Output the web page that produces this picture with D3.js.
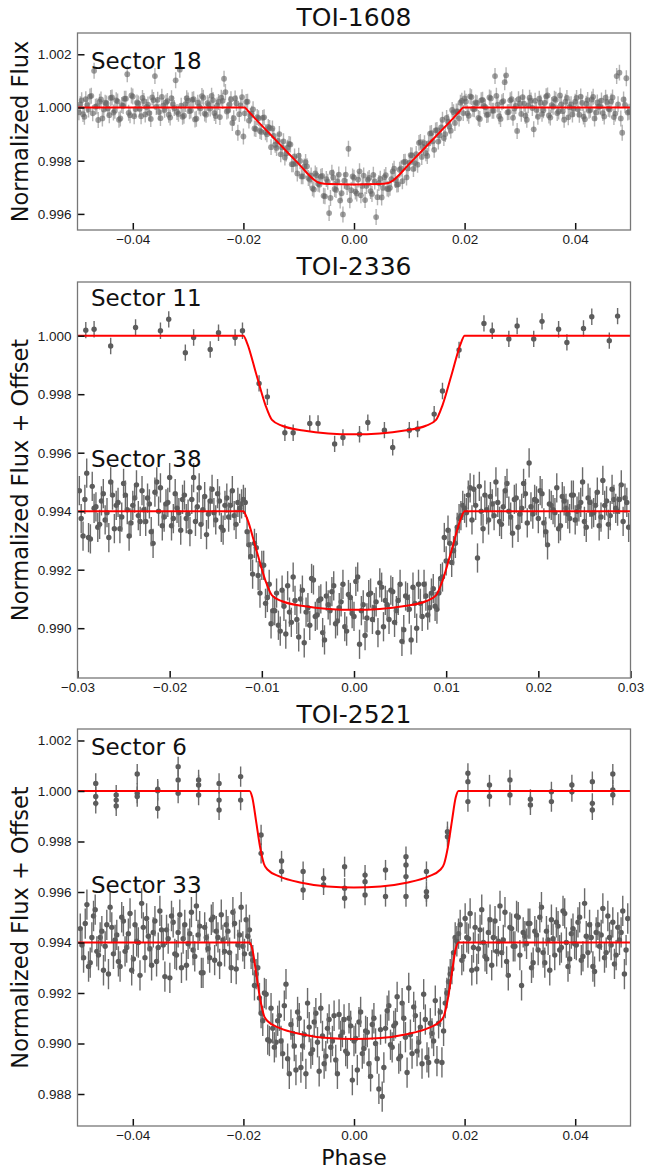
<!DOCTYPE html>
<html>
<head>
<meta charset="utf-8">
<script src="https://cdn.jsdelivr.net/npm/d3@7"></script>
<style>
  body { margin: 0; background: #fff; }
  svg { display: block; font-family: "DejaVu Sans", sans-serif; }
</style>
</head>
<body>
<svg id="fig" width="645" height="1169"></svg>
<script>

// ---------- tick labels ----------
var xTicksWide = [-0.04, -0.02, 0.00, 0.02, 0.04];
var xTicksNarrow = [-0.03, -0.02, -0.01, 0.00, 0.01, 0.02, 0.03];
var yTicks1608 = [1.002, 1.000, 0.998, 0.996];
var yTicks2336 = [1.000, 0.998, 0.996, 0.994, 0.992, 0.990];
var yTicks2521 = [1.002, 1.000, 0.998, 0.996, 0.994, 0.992, 0.990, 0.988];

// ---------- TOI-1608, Sector 18 (two interleaved phase bins) ----------
var s18Phase = [
  -0.0495,-0.0490,-0.0485,-0.0480,-0.0475,-0.0470,-0.0465,-0.0460,-0.0455,-0.0450,
  -0.0445,-0.0440,-0.0435,-0.0430,-0.0425,-0.0420,-0.0415,-0.0410,-0.0405,-0.0400,
  -0.0395,-0.0390,-0.0385,-0.0380,-0.0375,-0.0370,-0.0365,-0.0360,-0.0355,-0.0350,
  -0.0345,-0.0340,-0.0335,-0.0330,-0.0325,-0.0320,-0.0315,-0.0310,-0.0305,-0.0300,
  -0.0295,-0.0290,-0.0285,-0.0280,-0.0275,-0.0270,-0.0265,-0.0260,-0.0255,-0.0250,
  -0.0245,-0.0240,-0.0235,-0.0230,-0.0225,-0.0220,-0.0215,-0.0210,-0.0205,-0.0200,
  -0.0195,-0.0190,-0.0185,-0.0180,-0.0175,-0.0170,-0.0165,-0.0160,-0.0155,-0.0150,
  -0.0145,-0.0140,-0.0135,-0.0130,-0.0125,-0.0120,-0.0115,-0.0110,-0.0105,-0.0100,
  -0.0095,-0.0090,-0.0085,-0.0080,-0.0075,-0.0070,-0.0065,-0.0060,-0.0055,-0.0050,
  -0.0045,-0.0040,-0.0035,-0.0030,-0.0025,-0.0020,-0.0015,-0.0010,-0.0005,0.0000,
  0.0005,0.0010,0.0015,0.0020,0.0025,0.0030,0.0035,0.0040,0.0045,0.0050,
  0.0055,0.0060,0.0065,0.0070,0.0075,0.0080,0.0085,0.0090,0.0095,0.0100,
  0.0105,0.0110,0.0115,0.0120,0.0125,0.0130,0.0135,0.0140,0.0145,0.0150,
  0.0155,0.0160,0.0165,0.0170,0.0175,0.0180,0.0185,0.0190,0.0195,0.0200,
  0.0205,0.0210,0.0215,0.0220,0.0225,0.0230,0.0235,0.0240,0.0245,0.0250,
  0.0255,0.0260,0.0265,0.0270,0.0275,0.0280,0.0285,0.0290,0.0295,0.0300,
  0.0305,0.0310,0.0315,0.0320,0.0325,0.0330,0.0335,0.0340,0.0345,0.0350,
  0.0355,0.0360,0.0365,0.0370,0.0375,0.0380,0.0385,0.0390,0.0395,0.0400,
  0.0405,0.0410,0.0415,0.0420,0.0425,0.0430,0.0435,0.0440,0.0445,0.0450,
  0.0455,0.0460,0.0465,0.0470,0.0475,0.0480,0.0485,0.0490,0.0495
];
var s18Flux = [
  1.00012,0.99975,1.00031,0.99992,1.00044,1.00138,1.00005,1.00022,0.99959,1.00018,
  0.99997,1.00036,0.99981,1.00027,0.99954,1.00009,1.00033,1.00125,0.99971,1.00041,
  0.99994,1.00015,0.99967,1.00024,1.00002,0.99979,1.00038,1.00118,1.00029,0.99960,
  1.00007,1.00019,0.99973,1.00035,0.99998,0.99983,1.00142,0.99965,1.00013,1.00026,
  0.99989,1.00031,0.99958,1.00004,1.00043,0.99977,1.00016,0.99996,1.00028,0.99968,
  1.00021,1.00037,1.00108,0.99985,1.00012,0.99942,1.00034,0.99905,1.00008,0.99891,
  1.00021,0.99951,0.99977,0.99921,0.99964,0.99912,0.99961,0.99907,0.99927,0.99851,
  0.99893,0.99848,0.99900,0.99850,0.99812,0.99849,0.99861,0.99787,0.99789,0.99819,
  0.99741,0.99778,0.99779,0.99729,0.99696,0.99752,0.99713,0.99740,0.99668,0.99731,
  0.99603,0.99755,0.99694,0.99722,0.99650,0.99598,0.99748,0.99845,0.99689,0.99736,
  0.99677,0.99760,0.99705,0.99652,0.99729,0.99686,0.99747,0.99588,0.99716,0.99662,
  0.99738,0.99695,0.99698,0.99760,0.99727,0.99711,0.99771,0.99795,0.99737,0.99792,
  0.99820,0.99791,0.99785,0.99870,0.99852,0.99828,0.99865,0.99904,0.99841,0.99915,
  0.99895,0.99954,0.99900,0.99946,0.99913,0.99982,0.99985,0.99959,1.00025,1.00034,
  0.99978,1.00042,0.99995,1.00019,0.99961,1.00027,1.00006,0.99972,1.00038,0.99988,
  1.00118,1.00011,0.99957,1.00024,1.00121,0.99983,1.00031,0.99996,0.99912,1.00015,
  1.00039,0.99969,1.00008,1.00026,0.99918,0.99991,1.00033,0.99976,1.00017,1.00045,
  0.99962,1.00003,1.00029,0.99985,1.00012,0.99954,1.00036,1.00001,0.99974,1.00022,
  0.99993,1.00041,0.99966,1.00014,0.99988,1.00030,0.99959,1.00019,1.00005,0.99979,
  1.00037,0.99995,1.00023,0.99964,1.00118,1.00131,0.99905,1.00010,0.99981
];
var s18bPhase = [
  -0.04975,-0.04925,-0.04875,-0.04825,-0.04775,-0.04725,-0.04675,-0.04625,-0.04575,-0.04525,
  -0.04475,-0.04425,-0.04375,-0.04325,-0.04275,-0.04225,-0.04175,-0.04125,-0.04075,-0.04025,
  -0.03975,-0.03925,-0.03875,-0.03825,-0.03775,-0.03725,-0.03675,-0.03625,-0.03575,-0.03525,
  -0.03475,-0.03425,-0.03375,-0.03325,-0.03275,-0.03225,-0.03175,-0.03125,-0.03075,-0.03025,
  -0.02975,-0.02925,-0.02875,-0.02825,-0.02775,-0.02725,-0.02675,-0.02625,-0.02575,-0.02525,
  -0.02475,-0.02425,-0.02375,-0.02325,-0.02275,-0.02225,-0.02175,-0.02125,-0.02075,-0.02025,
  -0.01975,-0.01925,-0.01875,-0.01825,-0.01775,-0.01725,-0.01675,-0.01625,-0.01575,-0.01525,
  -0.01475,-0.01425,-0.01375,-0.01325,-0.01275,-0.01225,-0.01175,-0.01125,-0.01075,-0.01025,
  -0.00975,-0.00925,-0.00875,-0.00825,-0.00775,-0.00725,-0.00675,-0.00625,-0.00575,-0.00525,
  -0.00475,-0.00425,-0.00375,-0.00325,-0.00275,-0.00225,-0.00175,-0.00125,-0.00075,-0.00025,
  0.00025,0.00075,0.00125,0.00175,0.00225,0.00275,0.00325,0.00375,0.00425,0.00475,
  0.00525,0.00575,0.00625,0.00675,0.00725,0.00775,0.00825,0.00875,0.00925,0.00975,
  0.01025,0.01075,0.01125,0.01175,0.01225,0.01275,0.01325,0.01375,0.01425,0.01475,
  0.01525,0.01575,0.01625,0.01675,0.01725,0.01775,0.01825,0.01875,0.01925,0.01975,
  0.02025,0.02075,0.02125,0.02175,0.02225,0.02275,0.02325,0.02375,0.02425,0.02475,
  0.02525,0.02575,0.02625,0.02675,0.02725,0.02775,0.02825,0.02875,0.02925,0.02975,
  0.03025,0.03075,0.03125,0.03175,0.03225,0.03275,0.03325,0.03375,0.03425,0.03475,
  0.03525,0.03575,0.03625,0.03675,0.03725,0.03775,0.03825,0.03875,0.03925,0.03975,
  0.04025,0.04075,0.04125,0.04175,0.04225,0.04275,0.04325,0.04375,0.04425,0.04475,
  0.04525,0.04575,0.04625,0.04675,0.04725,0.04775,0.04825,0.04875,0.04925,0.04975
];
var s18bFlux = [
  0.99982,1.00027,0.99965,1.00009,1.00041,0.99978,1.00003,0.99953,1.00030,0.99992,
  1.00015,0.99971,1.00038,0.99988,1.00023,0.99959,1.00006,1.00033,0.99980,1.00045,
  0.99967,1.00019,0.99995,1.00036,0.99974,1.00011,0.99957,1.00028,1.00002,0.99983,
  1.00040,0.99991,1.00024,0.99962,1.00013,1.00102,0.99976,1.00007,0.99969,1.00035,
  0.99986,1.00029,0.99955,1.00018,0.99997,1.00037,0.99973,1.00010,1.00044,0.99979,
  1.00008,0.99964,1.00025,1.00058,0.99989,1.00031,0.99960,1.00016,0.99975,1.00039,
  0.99978,1.00022,0.99969,0.99993,0.99919,0.99960,0.99908,0.99963,0.99899,0.99923,
  0.99921,0.99860,0.99874,0.99824,0.99873,0.99827,0.99863,0.99787,0.99816,0.99752,
  0.99799,0.99741,0.99795,0.99735,0.99744,0.99692,0.99745,0.99710,0.99743,0.99666,
  0.99721,0.99660,0.99737,0.99690,0.99748,0.99678,0.99725,0.99701,0.99651,0.99741,
  0.99684,0.99729,0.99670,0.99744,0.99705,0.99735,0.99675,0.99722,0.99663,0.99732,
  0.99698,0.99746,0.99693,0.99731,0.99770,0.99710,0.99766,0.99723,0.99796,0.99771,
  0.99821,0.99769,0.99825,0.99867,0.99814,0.99866,0.99818,0.99902,0.99873,0.99914,
  0.99872,0.99925,0.99885,0.99961,0.99929,0.99991,0.99942,0.99985,1.00018,0.99979,
  1.00022,0.99969,1.00039,0.99993,1.00016,0.99957,1.00029,1.00001,0.99974,1.00034,
  0.99988,1.00044,0.99967,1.00020,1.00095,0.99982,1.00027,0.99961,1.00006,1.00031,
  0.99976,1.00014,0.99954,1.00037,0.99998,1.00025,0.99965,1.00018,0.99990,1.00042,
  0.99970,1.00009,1.00033,0.99979,1.00045,0.99986,1.00022,0.99963,1.00012,0.99995,
  1.00036,0.99973,1.00017,0.99956,1.00028,0.99991,1.00040,0.99981,1.00003,1.00026,
  0.99966,1.00021,0.99992,1.00038,0.99977,1.00012,0.99959,1.00030,1.00110,0.99984
];
var s18Err = 0.0003;
var s18ModelPhase = [-0.05,-0.0198,-0.0192,-0.018,-0.015,-0.012,-0.0095,-0.0082,-0.0072,-0.0062,-0.0045,0,
                     0.0045,0.0062,0.0072,0.0082,0.0095,0.012,0.015,0.018,0.0192,0.0198,0.05];
var s18ModelFlux = [1,1,0.99988,0.99961,0.99896,0.99831,0.99777,0.99747,0.99728,0.99716,0.99712,0.99711,
                    0.99712,0.99716,0.99728,0.99747,0.99777,0.99831,0.99896,0.99961,0.99988,1,1];

// ---------- TOI-2336, Sector 11 ----------
var s11Phase = [-0.0291,-0.0282,-0.0264,-0.0237,-0.0210,-0.0201,-0.0183,-0.0174,-0.0156,-0.0147,
  -0.0129,-0.0121,-0.0103,-0.0094,-0.0075,-0.0066,-0.0048,-0.0039,-0.0021,-0.0012,
  0.0006,0.0015,0.0033,0.0042,0.0060,0.0069,0.0087,0.0096,0.0114,0.0141,
  0.0150,0.0168,0.0177,0.0195,0.0204,0.0222,0.0231,0.0249,0.0258,0.0277,0.0286];
var s11Flux = [1.00019,1.00022,0.99965,1.00028,1.00017,1.00056,0.99942,0.99994,0.99953,1.00010,
  0.99994,1.00017,0.99837,0.99791,0.99668,0.99668,0.99700,0.99700,0.99630,0.99652,
  0.99663,0.99703,0.99677,0.99618,0.99677,0.99681,0.99732,0.99811,0.99951,1.00042,
  1.00017,0.99989,1.00033,0.99989,1.00049,1.00022,0.99977,1.00025,1.00065,0.99983,1.00067];
var s11Err = 0.00028;
var s11ModelPhase = [-0.03,-0.0120,-0.0116,-0.0106,-0.0096,-0.0089,-0.0078,-0.0055,-0.0028,0,
                     0.0028,0.0055,0.0078,0.0089,0.0096,0.0106,0.0116,0.0120,0.03];
var s11ModelFlux = [1,1,0.99975,0.99868,0.99762,0.99712,0.99692,0.99676,0.99666,0.99663,
                    0.99666,0.99676,0.99692,0.99712,0.99762,0.99868,0.99975,1,1];

// ---------- TOI-2336, Sector 38 (two interleaved phase bins) ----------
var s38Phase = [
  -0.0298,-0.0294,-0.0290,-0.0286,-0.0282,-0.0278,-0.0274,-0.0270,-0.0266,-0.0262,
  -0.0258,-0.0254,-0.0250,-0.0246,-0.0242,-0.0238,-0.0234,-0.0230,-0.0226,-0.0222,
  -0.0218,-0.0214,-0.0210,-0.0206,-0.0202,-0.0198,-0.0194,-0.0190,-0.0186,-0.0182,
  -0.0178,-0.0174,-0.0170,-0.0166,-0.0162,-0.0158,-0.0154,-0.0150,-0.0146,-0.0142,
  -0.0138,-0.0134,-0.0130,-0.0126,-0.0122,-0.0118,-0.0114,-0.0110,-0.0106,-0.0102,
  -0.0098,-0.0094,-0.0090,-0.0086,-0.0082,-0.0078,-0.0074,-0.0070,-0.0066,-0.0062,
  -0.0058,-0.0054,-0.0050,-0.0046,-0.0042,-0.0038,-0.0034,-0.0030,-0.0026,-0.0022,
  -0.0018,-0.0014,-0.0010,-0.0006,-0.0002,0.0002,0.0006,0.0010,0.0014,0.0018,
  0.0022,0.0026,0.0030,0.0034,0.0038,0.0042,0.0046,0.0050,0.0054,0.0058,
  0.0062,0.0066,0.0070,0.0074,0.0078,0.0082,0.0086,0.0090,0.0094,0.0098,
  0.0102,0.0106,0.0110,0.0114,0.0118,0.0122,0.0126,0.0130,0.0134,0.0138,
  0.0142,0.0146,0.0150,0.0154,0.0158,0.0162,0.0166,0.0170,0.0174,0.0178,
  0.0182,0.0186,0.0190,0.0194,0.0198,0.0202,0.0206,0.0210,0.0214,0.0218,
  0.0222,0.0226,0.0230,0.0234,0.0238,0.0242,0.0246,0.0250,0.0254,0.0258,
  0.0262,0.0266,0.0270,0.0274,0.0278,0.0282,0.0286,0.0290,0.0294,0.0298
];
var s38Flux = [
  0.99470,0.99315,0.99530,0.99305,0.99410,0.99345,0.99435,0.99370,0.99310,0.99455,
  0.99420,0.99340,0.99495,0.99405,0.99360,0.99445,0.99385,0.99470,0.99365,0.99425,
  0.99290,0.99500,0.99480,0.99380,0.99430,0.99350,0.99460,0.99395,0.99440,0.99375,
  0.99330,0.99515,0.99415,0.99355,0.99450,0.99390,0.99475,0.99370,0.99435,0.99335,
  0.99445,0.99420,0.99385,0.99430,0.99425,0.99430,0.99285,0.99185,0.99275,0.99120,
  0.99215,0.99105,0.99015,0.99060,0.99010,0.99130,0.98980,0.99055,0.99175,0.99030,
  0.99100,0.98950,0.99070,0.99170,0.99040,0.99095,0.98985,0.99110,0.99060,0.99145,
  0.99025,0.99090,0.99005,0.99115,0.99050,0.99160,0.98945,0.99080,0.99035,0.99120,
  0.99070,0.98985,0.99140,0.99095,0.99030,0.99125,0.99060,0.99150,0.98995,0.99105,
  0.98960,0.99085,0.99150,0.99040,0.99110,0.99070,0.99135,0.99065,0.99170,0.99310,
  0.99335,0.99225,0.99290,0.99375,0.99420,0.99395,0.99480,0.99475,0.99240,0.99400,
  0.99455,0.99370,0.99425,0.99500,0.99365,0.99415,0.99495,0.99380,0.99440,0.99345,
  0.99410,0.99460,0.99565,0.99390,0.99435,0.99470,0.99360,0.99285,0.99420,0.99395,
  0.99340,0.99450,0.99410,0.99375,0.99455,0.99400,0.99430,0.99365,0.99445,0.99390,
  0.99420,0.99350,0.99505,0.99435,0.99385,0.99440,0.99400,0.99490,0.99445,0.99345
];
var s38bPhase = [
  -0.0296,-0.0292,-0.0288,-0.0284,-0.0280,-0.0276,-0.0272,-0.0268,-0.0264,-0.0260,
  -0.0256,-0.0252,-0.0248,-0.0244,-0.0240,-0.0236,-0.0232,-0.0228,-0.0224,-0.0220,
  -0.0216,-0.0212,-0.0208,-0.0204,-0.0200,-0.0196,-0.0192,-0.0188,-0.0184,-0.0180,
  -0.0176,-0.0172,-0.0168,-0.0164,-0.0160,-0.0156,-0.0152,-0.0148,-0.0144,-0.0140,
  -0.0136,-0.0132,-0.0128,-0.0124,-0.0120,-0.0116,-0.0112,-0.0108,-0.0104,-0.0100,
  -0.0096,-0.0092,-0.0088,-0.0084,-0.0080,-0.0076,-0.0072,-0.0068,-0.0064,-0.0060,
  -0.0056,-0.0052,-0.0048,-0.0044,-0.0040,-0.0036,-0.0032,-0.0028,-0.0024,-0.0020,
  -0.0016,-0.0012,-0.0008,-0.0004,0.0000,0.0004,0.0008,0.0012,0.0016,0.0020,
  0.0024,0.0028,0.0032,0.0036,0.0040,0.0044,0.0048,0.0052,0.0056,0.0060,
  0.0064,0.0068,0.0072,0.0076,0.0080,0.0084,0.0088,0.0092,0.0096,0.0100,
  0.0104,0.0108,0.0112,0.0116,0.0120,0.0124,0.0128,0.0132,0.0136,0.0140,
  0.0144,0.0148,0.0152,0.0156,0.0160,0.0164,0.0168,0.0172,0.0176,0.0180,
  0.0184,0.0188,0.0192,0.0196,0.0200,0.0204,0.0208,0.0212,0.0216,0.0220,
  0.0224,0.0228,0.0232,0.0236,0.0240,0.0244,0.0248,0.0252,0.0256,0.0260,
  0.0264,0.0268,0.0272,0.0276,0.0280,0.0284,0.0288,0.0292,0.0296
];
var s38bFlux = [
  0.99375,0.99440,0.99310,0.99485,0.99415,0.99355,0.99460,0.99395,0.99500,0.99340,
  0.99430,0.99380,0.99455,0.99315,0.99420,0.99490,0.99365,0.99405,0.99445,0.99330,
  0.99465,0.99400,0.99350,0.99425,0.99515,0.99375,0.99410,0.99335,0.99455,0.99390,
  0.99440,0.99365,0.99480,0.99405,0.99320,0.99435,0.99395,0.99460,0.99345,0.99420,
  0.99380,0.99470,0.99355,0.99410,0.99440,0.99330,0.99245,0.99290,0.99180,0.99215,
  0.99085,0.99150,0.99060,0.99120,0.98990,0.99075,0.99145,0.99020,0.99095,0.98970,
  0.99130,0.99055,0.99010,0.99165,0.99045,0.99100,0.98960,0.99080,0.99125,0.99015,
  0.99070,0.99150,0.98990,0.99105,0.99040,0.99175,0.99060,0.98975,0.99115,0.99030,
  0.99090,0.99155,0.99005,0.99080,0.99130,0.99020,0.99095,0.98955,0.99110,0.99065,
  0.99140,0.99000,0.99085,0.99150,0.99045,0.99120,0.99075,0.99120,0.99175,0.99230,
  0.99290,0.99265,0.99345,0.99385,0.99410,0.99455,0.99370,0.99420,0.99485,0.99340,
  0.99405,0.99450,0.99385,0.99430,0.99355,0.99470,0.99400,0.99325,0.99445,0.99390,
  0.99495,0.99360,0.99415,0.99440,0.99375,0.99460,0.99330,0.99425,0.99405,0.99480,
  0.99350,0.99435,0.99390,0.99455,0.99370,0.99415,0.99500,0.99345,0.99430,0.99395,
  0.99465,0.99380,0.99420,0.99355,0.99475,0.99410,0.99440,0.99365,0.99430
];
var s38Err = 0.0005;
var s38ModelPhase = s11ModelPhase;
var s38ModelFlux = [0.994,0.994,0.99375,0.99268,0.99162,0.99112,0.99092,0.99076,0.99066,0.99063,
                    0.99066,0.99076,0.99092,0.99112,0.99162,0.99268,0.99375,0.994,0.994];

// ---------- TOI-2521, Sector 6 ----------
var s6Phase = [
  -0.0467,-0.0467,-0.0467,-0.0430,-0.0430,-0.0430,-0.0392,-0.0392,-0.0392,
  -0.0355,-0.0355,-0.0355,-0.0318,-0.0318,-0.0318,-0.0281,-0.0281,-0.0281,
  -0.0244,-0.0244,-0.0244,-0.0205,-0.0205,-0.0168,-0.0168,-0.0131,-0.0131,
  -0.0092,-0.0092,-0.0055,-0.0055,-0.0017,-0.0017,-0.0017,0.0020,0.0020,0.0020,
  0.0057,0.0057,0.0094,0.0094,0.0094,0.0094,0.0131,0.0131,0.0131,0.0169,0.0169,
  0.0206,0.0206,0.0206,0.0245,0.0245,0.0282,0.0282,0.0319,0.0319,0.0357,0.0357,
  0.0394,0.0394,0.0431,0.0431,0.0431,0.0468,0.0468,0.0468
];
var s6Flux = [
  1.00030,0.99951,0.99978,0.99984,0.99964,0.99941,1.00067,0.99991,0.99978,
  1.00007,0.99931,1.00001,1.00096,1.00044,0.99991,1.00044,1.00024,0.99984,
  1.00030,0.99964,0.99925,1.00057,0.99964,0.99826,0.99753,0.99723,0.99681,
  0.99681,0.99608,0.99654,0.99628,0.99700,0.99615,0.99575,0.99667,0.99641,0.99588,
  0.99687,0.99582,0.99740,0.99707,0.99661,0.99582,0.99681,0.99601,0.99582,0.99839,0.99819,
  1.00070,1.00037,0.99958,1.00024,0.99978,1.00044,0.99984,0.99967,0.99945,0.99997,0.99958,
  1.00024,0.99997,1.00037,0.99951,0.99925,1.00067,1.00004,0.99984
];
var s6Err = 0.0004;
var s6ModelPhase = [-0.05,-0.0189,-0.0184,-0.0177,-0.0170,-0.0163,-0.0156,-0.0135,-0.0095,-0.0048,0,
                    0.0048,0.0095,0.0135,0.0156,0.0163,0.0170,0.0177,0.0184,0.0189,0.05];
var s6ModelFlux = [1,1,0.99975,0.99880,0.99780,0.99712,0.99688,0.99662,0.99637,0.99622,0.99618,
                   0.99622,0.99637,0.99662,0.99688,0.99712,0.99780,0.99880,0.99975,1,1];

// ---------- TOI-2521, Sector 33 (two interleaved phase bins) ----------
var s33Phase = [
  -0.0495,-0.0489,-0.0483,-0.0477,-0.0471,-0.0465,-0.0459,-0.0453,-0.0447,-0.0441,
  -0.0435,-0.0429,-0.0423,-0.0417,-0.0411,-0.0405,-0.0399,-0.0393,-0.0387,-0.0381,
  -0.0375,-0.0369,-0.0363,-0.0357,-0.0351,-0.0345,-0.0339,-0.0333,-0.0327,-0.0321,
  -0.0315,-0.0309,-0.0303,-0.0297,-0.0291,-0.0285,-0.0279,-0.0273,-0.0267,-0.0261,
  -0.0255,-0.0249,-0.0243,-0.0237,-0.0231,-0.0225,-0.0219,-0.0213,-0.0207,-0.0201,
  -0.0195,-0.0189,-0.0183,-0.0177,-0.0171,-0.0165,-0.0159,-0.0153,-0.0147,-0.0141,
  -0.0135,-0.0129,-0.0123,-0.0117,-0.0111,-0.0105,-0.0099,-0.0093,-0.0087,-0.0081,
  -0.0075,-0.0069,-0.0063,-0.0057,-0.0051,-0.0045,-0.0039,-0.0033,-0.0027,-0.0021,
  -0.0015,-0.0009,-0.0003,0.0003,0.0009,0.0015,0.0021,0.0027,0.0033,0.0039,
  0.0045,0.0051,0.0057,0.0063,0.0069,0.0075,0.0081,0.0087,0.0093,0.0099,
  0.0105,0.0111,0.0117,0.0123,0.0129,0.0135,0.0141,0.0147,0.0153,0.0159,
  0.0165,0.0171,0.0177,0.0183,0.0189,0.0195,0.0201,0.0207,0.0213,0.0219,
  0.0225,0.0231,0.0237,0.0243,0.0249,0.0255,0.0261,0.0267,0.0273,0.0279,
  0.0285,0.0291,0.0297,0.0303,0.0309,0.0315,0.0321,0.0327,0.0333,0.0339,
  0.0345,0.0351,0.0357,0.0363,0.0369,0.0375,0.0381,0.0387,0.0393,0.0399,
  0.0405,0.0411,0.0417,0.0423,0.0429,0.0435,0.0441,0.0447,0.0453,0.0459,
  0.0465,0.0471,0.0477,0.0483,0.0489,0.0495
];
var s33Flux = [
  0.99455,0.99340,0.99550,0.99320,0.99505,0.99365,0.99420,0.99290,0.99470,0.99540,
  0.99355,0.99430,0.99305,0.99485,0.99380,0.99515,0.99335,0.99405,0.99270,0.99460,
  0.99495,0.99375,0.99440,0.99325,0.99525,0.99390,0.99450,0.99260,0.99480,0.99350,
  0.99510,0.99415,0.99310,0.99435,0.99370,0.99545,0.99465,0.99280,0.99420,0.99340,
  0.99500,0.99445,0.99315,0.99410,0.99470,0.99360,0.99520,0.99295,0.99430,0.99385,
  0.99490,0.99450,0.99330,0.99275,0.99180,0.99090,0.99195,0.99010,0.99060,0.99005,
  0.99110,0.98960,0.99235,0.98880,0.99040,0.98895,0.99100,0.98990,0.98880,0.99065,
  0.98975,0.99120,0.98890,0.99030,0.98950,0.99095,0.99010,0.98935,0.99115,0.99045,
  0.98970,0.99100,0.98855,0.99020,0.99085,0.98960,0.99050,0.98920,0.99075,0.99000,
  0.98820,0.98790,0.99060,0.99150,0.98985,0.99080,0.98940,0.99160,0.99025,0.99220,
  0.98960,0.99110,0.99005,0.98920,0.99095,0.98925,0.99040,0.99170,0.99080,0.98925,
  0.99160,0.99245,0.99295,0.99420,0.99435,0.99330,0.99495,0.99415,0.99290,0.99460,
  0.99375,0.99530,0.99345,0.99440,0.99310,0.99485,0.99405,0.99360,0.99520,0.99270,
  0.99455,0.99385,0.99500,0.99230,0.99425,0.99475,0.99300,0.99445,0.99370,0.99540,
  0.99320,0.99410,0.99490,0.99350,0.99465,0.99380,0.99515,0.99305,0.99435,0.99395,
  0.99480,0.99330,0.99555,0.99360,0.99420,0.99285,0.99470,0.99430,0.99340,0.99505,
  0.99390,0.99315,0.99460,0.99440,0.99275,0.99495
];
var s33bPhase = [
  -0.0492,-0.0486,-0.0480,-0.0474,-0.0468,-0.0462,-0.0456,-0.0450,-0.0444,-0.0438,
  -0.0432,-0.0426,-0.0420,-0.0414,-0.0408,-0.0402,-0.0396,-0.0390,-0.0384,-0.0378,
  -0.0372,-0.0366,-0.0360,-0.0354,-0.0348,-0.0342,-0.0336,-0.0330,-0.0324,-0.0318,
  -0.0312,-0.0306,-0.0300,-0.0294,-0.0288,-0.0282,-0.0276,-0.0270,-0.0264,-0.0258,
  -0.0252,-0.0246,-0.0240,-0.0234,-0.0228,-0.0222,-0.0216,-0.0210,-0.0204,-0.0198,
  -0.0192,-0.0186,-0.0180,-0.0174,-0.0168,-0.0162,-0.0156,-0.0150,-0.0144,-0.0138,
  -0.0132,-0.0126,-0.0120,-0.0114,-0.0108,-0.0102,-0.0096,-0.0090,-0.0084,-0.0078,
  -0.0072,-0.0066,-0.0060,-0.0054,-0.0048,-0.0042,-0.0036,-0.0030,-0.0024,-0.0018,
  -0.0012,-0.0006,0.0000,0.0006,0.0012,0.0018,0.0024,0.0030,0.0036,0.0042,
  0.0048,0.0054,0.0060,0.0066,0.0072,0.0078,0.0084,0.0090,0.0096,0.0102,
  0.0108,0.0114,0.0120,0.0126,0.0132,0.0138,0.0144,0.0150,0.0156,0.0162,
  0.0168,0.0174,0.0180,0.0186,0.0192,0.0198,0.0204,0.0210,0.0216,0.0222,
  0.0228,0.0234,0.0240,0.0246,0.0252,0.0258,0.0264,0.0270,0.0276,0.0282,
  0.0288,0.0294,0.0300,0.0306,0.0312,0.0318,0.0324,0.0330,0.0336,0.0342,
  0.0348,0.0354,0.0360,0.0366,0.0372,0.0378,0.0384,0.0390,0.0396,0.0402,
  0.0408,0.0414,0.0420,0.0426,0.0432,0.0438,0.0444,0.0450,0.0456,0.0462,
  0.0468,0.0474,0.0480,0.0486,0.0492
];
var s33bFlux = [
  0.99390,0.99475,0.99305,0.99420,0.99530,0.99350,0.99445,0.99385,0.99275,0.99460,
  0.99410,0.99325,0.99500,0.99365,0.99435,0.99290,0.99470,0.99400,0.99555,0.99340,
  0.99425,0.99310,0.99485,0.99380,0.99450,0.99265,0.99415,0.99505,0.99355,0.99440,
  0.99300,0.99470,0.99395,0.99520,0.99345,0.99430,0.99280,0.99460,0.99375,0.99490,
  0.99330,0.99420,0.99510,0.99365,0.99445,0.99300,0.99475,0.99390,0.99540,0.99355,
  0.99425,0.99355,0.99230,0.99300,0.99120,0.99200,0.99015,0.99140,0.98985,0.99090,
  0.99010,0.99150,0.98940,0.99075,0.98990,0.99125,0.98905,0.99035,0.99160,0.98960,
  0.99085,0.99005,0.99140,0.98920,0.99060,0.98985,0.99110,0.98880,0.99030,0.99095,
  0.98960,0.99070,0.99010,0.98895,0.99125,0.98980,0.99045,0.98870,0.99100,0.98940,
  0.99055,0.98905,0.99130,0.98995,0.99070,0.99185,0.98950,0.99100,0.98885,0.99035,
  0.99145,0.98970,0.99065,0.99195,0.98945,0.99080,0.99010,0.98930,0.99125,0.99050,
  0.99200,0.99275,0.99360,0.99405,0.99470,0.99345,0.99420,0.99515,0.99380,0.99295,
  0.99450,0.99400,0.99335,0.99490,0.99420,0.99365,0.99545,0.99410,0.99325,0.99460,
  0.99385,0.99505,0.99350,0.99440,0.99395,0.99475,0.99320,0.99430,0.99500,0.99360,
  0.99445,0.99290,0.99415,0.99480,0.99370,0.99525,0.99400,0.99335,0.99455,0.99390,
  0.99500,0.99345,0.99425,0.99470,0.99305,0.99440,0.99385,0.99535,0.99360,0.99420,
  0.99480,0.99350,0.99410,0.99525,0.99370
];
var s33Err = 0.0006;
var s33ModelPhase = s6ModelPhase;
var s33ModelFlux = [0.994,0.994,0.99375,0.99280,0.99180,0.99112,0.99088,0.99062,0.99037,0.99022,0.99018,
                    0.99022,0.99037,0.99062,0.99088,0.99112,0.99180,0.99280,0.99375,0.994,0.994];


var svg = d3.select('#fig');
var plotLeft = 77.5, plotRight = 630.5;
var midX = (plotLeft + plotRight) / 2;

var panels = [
    { id: 'p1', top: 33, bottom: 230, xDomain: [-0.05, 0.05], yDomain: [0.995395, 1.0028],
      xTicks: xTicksWide, yTicks: yTicks1608, title: 'TOI-1608', titleY: 26,
      ylabel: 'Normalized Flux',
      series: [{ phase: s18Phase, flux: s18Flux, err: s18Err, light: true },
               { phase: s18bPhase, flux: s18bFlux, err: s18Err, light: true }],
      models: [[s18ModelPhase, s18ModelFlux]],
      labels: [['Sector 18', 69]] },
    { id: 'p2', top: 282, bottom: 678, xDomain: [-0.03, 0.03], yDomain: [0.988297, 1.001836],
      xTicks: xTicksNarrow, yTicks: yTicks2336, title: 'TOI-2336', titleY: 275,
      ylabel: 'Normalized Flux + Offset',
      series: [{ phase: s11Phase, flux: s11Flux, err: s11Err },
               { phase: s38Phase, flux: s38Flux, err: s38Err },
               { phase: s38bPhase, flux: s38bFlux, err: s38Err }],
      models: [[s11ModelPhase, s11ModelFlux], [s38ModelPhase, s38ModelFlux]],
      labels: [['Sector 11', 306], ['Sector 38', 467]] },
    { id: 'p3', top: 729, bottom: 1126, xDomain: [-0.05, 0.05], yDomain: [0.986733, 1.002455],
      xTicks: xTicksWide, yTicks: yTicks2521, title: 'TOI-2521', titleY: 723,
      ylabel: 'Normalized Flux + Offset', xlabel: 'Phase',
      series: [{ phase: s6Phase, flux: s6Flux, err: s6Err },
               { phase: s33Phase, flux: s33Flux, err: s33Err },
               { phase: s33bPhase, flux: s33bFlux, err: s33Err }],
      models: [[s6ModelPhase, s6ModelFlux], [s33ModelPhase, s33ModelFlux]],
      labels: [['Sector 6', 755], ['Sector 33', 893]] }
];

panels.forEach(drawPanel);

function drawPanel(p) {
    var x = d3.scaleLinear().domain(p.xDomain).range([plotLeft, plotRight]);
    var y = d3.scaleLinear().domain(p.yDomain).range([p.bottom, p.top]);

    svg.append('clipPath').attr('id', 'clip-' + p.id)
        .append('rect')
        .attr('x', plotLeft).attr('y', p.top)
        .attr('width', plotRight - plotLeft).attr('height', p.bottom - p.top);

    var g = svg.append('g').attr('clip-path', 'url(#clip-' + p.id + ')');

    p.series.forEach(function(s) {
        var pts = s.phase.map(function(ph, i) { return { x: ph, y: s.flux[i] }; });
        var errColor = s.light ? 'rgba(105,105,105,0.5)' : '#6b6b6b';
        var dotColor = s.light ? 'rgba(100,100,100,0.62)' : '#5c5c5c';

        g.append('g').selectAll('line')
            .data(pts).enter().append('line')
            .attr('x1', function(d) { return x(d.x); })
            .attr('x2', function(d) { return x(d.x); })
            .attr('y1', function(d) { return y(d.y - s.err); })
            .attr('y2', function(d) { return y(d.y + s.err); })
            .attr('stroke', errColor)
            .attr('stroke-width', 1.4);

        g.append('g').selectAll('circle')
            .data(pts).enter().append('circle')
            .attr('cx', function(d) { return x(d.x); })
            .attr('cy', function(d) { return y(d.y); })
            .attr('r', s.light ? 2.9 : 2.7)
            .attr('fill', dotColor);
    });

    var line = d3.line()
        .x(function(d) { return x(d[0]); })
        .y(function(d) { return y(d[1]); })
        .curve(d3.curveMonotoneX);

    p.models.forEach(function(m) {
        var pts = m[0].map(function(ph, i) { return [ph, m[1][i]]; });
        g.append('path')
            .datum(pts)
            .attr('fill', 'none')
            .attr('stroke', '#ff0000')
            .attr('stroke-width', 2)
            .attr('d', line);
    });

    // axes, ticks pointing inward
    var xAxis = svg.append('g')
        .attr('transform', 'translate(0,' + p.bottom + ')')
        .call(d3.axisBottom(x).tickValues(p.xTicks).tickFormat(d3.format('.2f'))
            .tickSizeInner(-7).tickSizeOuter(0).tickPadding(4));
    var yAxis = svg.append('g')
        .attr('transform', 'translate(' + plotLeft + ',0)')
        .call(d3.axisLeft(y).tickValues(p.yTicks).tickFormat(d3.format('.3f'))
            .tickSizeInner(-7).tickSizeOuter(0).tickPadding(6));

    [xAxis, yAxis].forEach(function(a) {
        a.select('.domain').remove();
        a.selectAll('.tick line').attr('stroke', '#111').attr('stroke-width', 1.5);
        a.selectAll('.tick text').attr('fill', '#1a1a1a').style('font-size', '13.5px');
    });

    // frame
    svg.append('rect')
        .attr('x', plotLeft).attr('y', p.top)
        .attr('width', plotRight - plotLeft).attr('height', p.bottom - p.top)
        .attr('fill', 'none')
        .attr('stroke', '#777')
        .attr('stroke-width', 1.3);

    svg.append('text')
        .attr('x', midX).attr('y', p.titleY)
        .attr('text-anchor', 'middle')
        .style('font-size', '25px')
        .attr('fill', '#111')
        .text(p.title);

    svg.append('text')
        .attr('transform', 'translate(28,' + ((p.top + p.bottom) / 2) + ') rotate(-90)')
        .attr('text-anchor', 'middle')
        .style('font-size', '22.5px')
        .attr('fill', '#111')
        .text(p.ylabel);

    p.labels.forEach(function(l) {
        svg.append('text')
            .attr('x', 91).attr('y', l[1])
            .style('font-size', '23px')
            .attr('fill', '#111')
            .text(l[0]);
    });

    if (p.xlabel) {
        svg.append('text')
            .attr('x', midX).attr('y', 1165)
            .attr('text-anchor', 'middle')
            .style('font-size', '22px')
            .attr('fill', '#111')
            .text(p.xlabel);
    }
}
</script>
</body>
</html>
